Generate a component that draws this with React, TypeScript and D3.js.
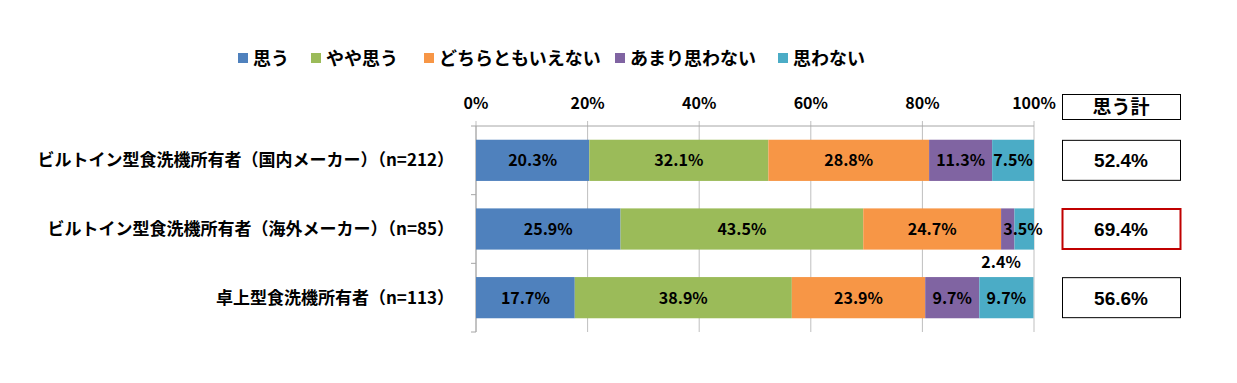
import React from "react";
import * as d3 from "d3";

const categories = [
  "ビルトイン型食洗機所有者（国内メーカー）（n=212）",
  "ビルトイン型食洗機所有者（海外メーカー）（n=85）",
  "卓上型食洗機所有者（n=113）",
];
const seriesNames = ["思う", "やや思う", "どちらともいえない", "あまり思わない", "思わない"];
const seriesColors = ["#4F81BD", "#9BBB59", "#F79646", "#8064A2", "#4BACC6"];
const values = [
  [20.3, 32.1, 28.8, 11.3, 7.5],
  [25.9, 43.5, 24.7, 2.4, 3.5],
  [17.7, 38.9, 23.9, 9.7, 9.7],
];
const totals = ["52.4%", "69.4%", "56.6%"];
const totalHeader = "思う計";
const xTicks = [0, 20, 40, 60, 80, 100];
const highlightIndex = 1;

const W = 1237;
const H = 383;
const JP = "'Noto Sans CJK JP', sans-serif";

export default function App() {
  const x = d3.scaleLinear().domain([0, 100]).range([476, 1034]);
  const y = d3.scaleBand<number>().domain(d3.range(categories.length)).range([126, 332]).paddingInner(0.4).paddingOuter(0.2);
  const band = d3.scaleBand<number>().domain(d3.range(categories.length)).range([126, 332]);

  const legendX = [238, 311, 424, 615, 778];

  return (
    <svg width={W} height={H} style={{ position: "absolute", left: 0, top: 0, background: "#fff" }}>
      {/* legend */}
      {seriesNames.map((n, i) => (
        <g key={n}>
          <rect x={legendX[i]} y={53} width={10} height={10} fill={seriesColors[i]} />
          <text x={legendX[i] + 15} y={65} fontFamily={JP} fontWeight="bold" fontSize={18} fill="#000">{n}</text>
        </g>
      ))}
      {/* gridlines */}
      {xTicks.map((t) => (
        <line key={t} x1={x(t)} x2={x(t)} y1={121} y2={332} stroke="#BFBFBF" strokeWidth={1} />
      ))}
      <line x1={x(0)} x2={x(100)} y1={126} y2={126} stroke="#A6A6A6" />
      <line x1={x(0)} x2={x(0)} y1={126} y2={332} stroke="#A6A6A6" />
      {d3.range(categories.length + 1).map((i) => {
        const yy = i < categories.length ? band(i)! : 332;
        return <line key={i} x1={x(0) - 5} x2={x(0)} y1={yy} y2={yy} stroke="#A6A6A6" />;
      })}
      {xTicks.map((t) => (
        <text key={t} x={x(t)} y={109} textAnchor="middle" fontFamily={JP} fontWeight="bold" fontSize={16} fill="#000">{t}%</text>
      ))}
      {/* bars */}
      {values.map((row, ci) => {
        let acc = 0;
        const y0 = y(ci)!;
        const h = y.bandwidth();
        return (
          <g key={ci}>
            {row.map((v, si) => {
              const start = acc;
              acc += v;
              const x0 = x(start);
              const x1 = x(Math.min(acc, 100));
              let lx = (x0 + x1) / 2;
              let ly = y0 + h / 2 + 6;
              if (v < 3) {
                ly = y0 + h + 18;
                lx = x0;
              } else if (v < 5) {
                lx = x1 - 11;
              }
              return (
                <g key={si}>
                  <rect x={x0} y={y0} width={Math.max(0, x1 - x0)} height={h} fill={seriesColors[si]} />
                  <text x={lx} y={ly} textAnchor="middle" fontFamily={JP} fontWeight="bold" fontSize={16} fill="#000">{v.toFixed(1)}%</text>
                </g>
              );
            })}
          </g>
        );
      })}
      {/* category labels */}
      {categories.map((c, i) => (
        <text key={c} x={454} y={y(i)! + y.bandwidth() / 2 + 6} textAnchor="end" fontFamily={JP} fontWeight="bold" fontSize={17} fill="#000">{c}</text>
      ))}
      {/* totals boxes */}
      <rect x={1062.5} y={94.5} width={118} height={25} fill="#fff" stroke="#000" strokeWidth={1} />
      <text x={1121} y={114} textAnchor="middle" fontFamily={JP} fontWeight="bold" fontSize={19} fill="#000">{totalHeader}</text>
      {totals.map((t, i) => {
        const cy = y(i)! + y.bandwidth() / 2;
        const hl = i === highlightIndex;
        return (
          <g key={t}>
            <rect x={1062.5} y={cy - 20} width={118} height={40} fill="#fff" stroke={hl ? "#C00000" : "#000"} strokeWidth={hl ? 2 : 1} />
            <text x={1121} y={cy + 7} textAnchor="middle" fontFamily="'Liberation Sans', Arial, sans-serif" fontWeight="bold" fontSize={19} fill="#000">{t}</text>
          </g>
        );
      })}
    </svg>
  );
}
